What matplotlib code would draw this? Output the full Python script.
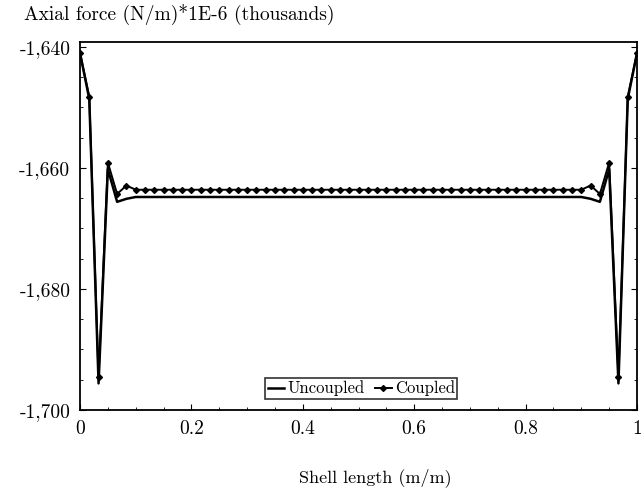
import matplotlib
matplotlib.use('Agg')
import matplotlib.pyplot as plt
from matplotlib.ticker import FuncFormatter, AutoMinorLocator

plt.rcParams['font.family'] = ['cmr10', 'DejaVu Serif']
plt.rcParams['axes.unicode_minus'] = False

# Положение по длине оболочки: 61 точка с шагом 1/60
n_pts = 61
shell_x = [i / (n_pts - 1) for i in range(n_pts)]

# Концевые участки (первые 6 точек), середина постоянна
uncoupled_edge = [-1641.0, -1648.6, -1695.6, -1660.2, -1665.6, -1665.1]
coupled_edge = [-1641.0, -1648.2, -1694.6, -1659.1, -1664.3, -1662.9]
uncoupled_mid = -1664.8
coupled_mid = -1663.6

n_mid = n_pts - 2 * len(uncoupled_edge)
uncoupled = uncoupled_edge + [uncoupled_mid] * n_mid + uncoupled_edge[::-1]
coupled = coupled_edge + [coupled_mid] * n_mid + coupled_edge[::-1]

fig = plt.figure(figsize=(6.41, 5.04), dpi=100)
ax = fig.add_axes([0.1248, 0.1865, 0.869, 0.730])

ax.plot(shell_x, uncoupled, color='black', lw=1.8, label='Uncoupled')
ax.plot(shell_x, coupled, color='black', lw=1.4, marker='D', ms=3.0,
        label='Coupled')

ax.set_xlim(0, 1)
ax.set_ylim(-1700, -1639.2)
ax.set_xticks([0, 0.2, 0.4, 0.6, 0.8, 1])
ax.set_xticklabels(['0', '0.2', '0.4', '0.6', '0.8', '1'])
ax.set_yticks([-1700, -1680, -1660, -1640])
ax.yaxis.set_major_formatter(FuncFormatter(lambda v, p: '-{:,}'.format(int(round(-v)))))
ax.xaxis.set_minor_locator(AutoMinorLocator(4))
ax.yaxis.set_minor_locator(AutoMinorLocator(4))
ax.tick_params(which='both', direction='in', top=False, right=True, labelsize=14)
ax.tick_params(which='major', length=4, pad=7)
ax.tick_params(which='minor', length=2)
for s in ax.spines.values():
    s.set_linewidth(1.3)

leg = ax.legend(loc='lower center', bbox_to_anchor=(0.505, 0.03), ncol=2,
                frameon=True, fancybox=False, edgecolor='black', fontsize=12,
                handlelength=1.0, handletextpad=0.2, columnspacing=0.6,
                borderpad=0.15, borderaxespad=0)
leg.get_frame().set_linewidth(1.2)

fig.text(0.038, 0.972, 'Axial force (N/m)*1E-6 (thousands)', fontsize=14,
         ha='left', va='center')
fig.text(0.585, 0.052, 'Shell length (m/m)', fontsize=13, ha='center', va='center')

fig.savefig('out.png', dpi=100)
